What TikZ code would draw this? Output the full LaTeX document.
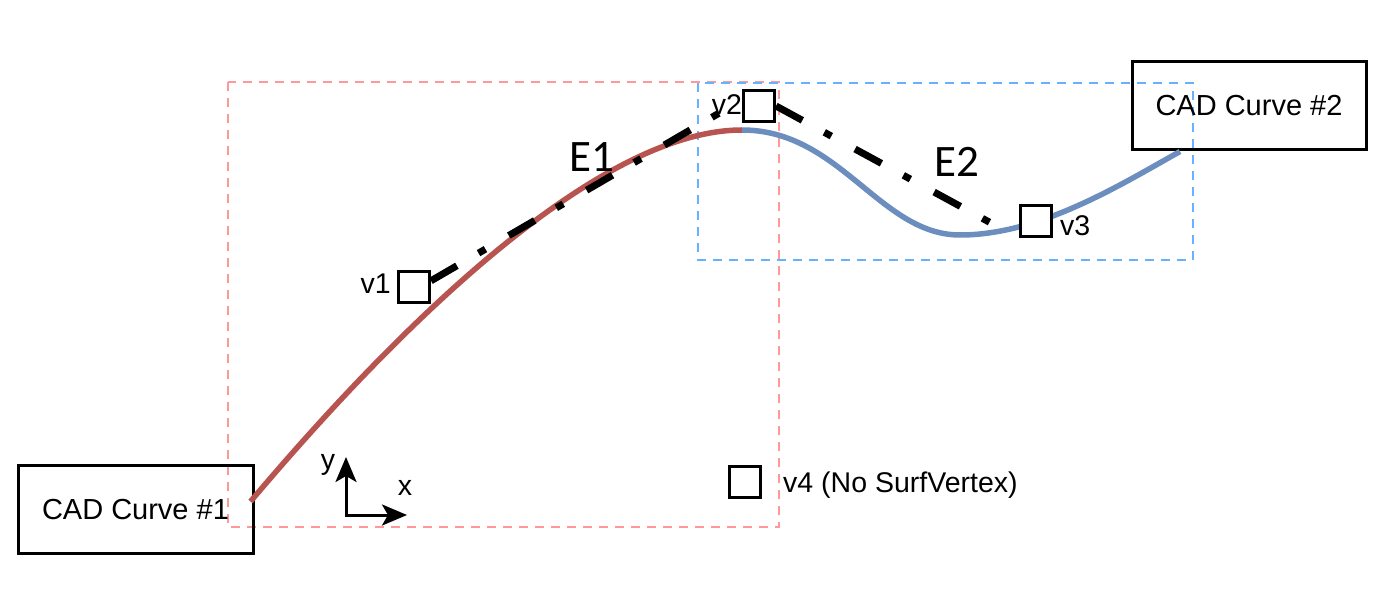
\documentclass[tikz,border=0pt]{standalone}
\usepackage{fontspec}
\setmainfont{Liberation Sans}
\newfontfamily\efont{Carlito}
\usetikzlibrary{arrows.meta}
\definecolor{redc}{HTML}{B85450}
\definecolor{bluec}{HTML}{6C8EBF}
\definecolor{pinkd}{HTML}{FF9999}
\definecolor{blued}{HTML}{66B2FF}
\begin{document}
\begin{tikzpicture}[x=1pt,y=-1pt,
  lbl/.style={font=\fontsize{28.5}{34}\selectfont, inner sep=0pt},
  elbl/.style={font=\efont\fontsize{45}{52}\selectfont, inner sep=0pt},
  cadbox/.style={draw=black, line width=3pt, minimum width=235pt, minimum height=88pt, inner sep=0pt, font=\fontsize{29}{34}\selectfont},
  vbox/.style={draw=black, fill=white, line width=3pt, minimum size=31pt, inner sep=0pt},
  region/.style={line width=2.8pt, dash pattern=on 9pt off 7pt},
  cad/.style={line width=5.5pt},
  edge/.style={line width=7pt, dash pattern=on 30pt off 25pt on 8pt off 27pt},
  axis/.style={line width=3pt, {Stealth[length=25pt,width=21pt,inset=6pt]}-{Stealth[length=25pt,width=21pt,inset=6pt]}}
]
\useasboundingbox (0,0) rectangle (1400,591);
% regions
\draw[region, pinkd] (228,82) rectangle (779,527);
\draw[region, blued] (698,83) rectangle (1193,260);
% CAD boxes
\node[cadbox] (cad1) at (135.5,509.5) {CAD Curve \#1};
\node[cadbox, minimum width=234pt] (cad2) at (1249,106) {CAD Curve \#2};
% curves
\coordinate (j) at (742,130);
\draw[cad, redc] ([xshift=-4pt,yshift=8pt]cad1.east) .. controls (425,295) and (610,130) .. (j);
\draw[cad, bluec] (j) .. controls (840,130) and (880,235) .. (960,235)
  .. controls (1040,235) and (1120,185) .. ([xshift=-69pt]cad2.south);
% vertices
\node[vbox] (v1) at (414,287) {};
\node[vbox] (v2) at (759,106) {};
\node[vbox] (v3) at (1035.5,221) {};
\node[vbox] (v4) at (745,481.5) {};
% edges
\draw[edge] (v1.20) -- (v2.160);
\draw[edge, shorten >=8pt] (v2.east) -- (v3.south west);
% labels
\node[lbl, anchor=base east] (l1) at (391,293) {v1};
\node[lbl, anchor=base] (l2) at (727,115) {v2};
\node[lbl, anchor=base west] (l3) at (1060,235) {v3};
\node[lbl, anchor=base west] (l4) at (783,492) {v4 (No SurfVertex)};
\node[elbl] (e1) at (592,157) {E1};
\node[elbl] (e2) at (957,162) {E2};
% axes
\coordinate (ay) at (346,457);
\coordinate (ao) at (346,515);
\coordinate (ax) at (407,515);
\draw[axis] (ay) -- (ao) -- (ax);
\node[lbl] (ylab) at (328,465) {y};
\node[lbl] (xlab) at (405,488) {x};
\end{tikzpicture}
\end{document}
